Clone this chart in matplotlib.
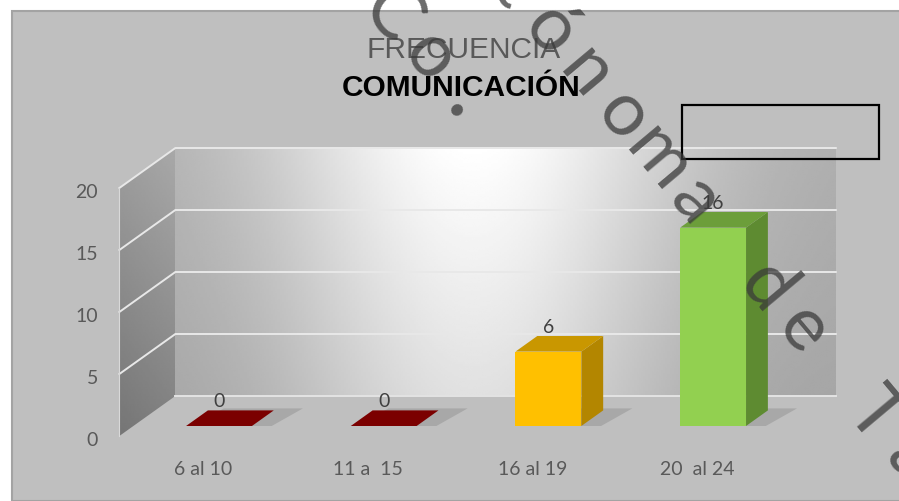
import numpy as np
import matplotlib.pyplot as plt
from matplotlib.patches import Polygon, Rectangle

# datos del grafico
categorias = ['6 al 10', '11 a  15', '16 al 19', '20  al 24']
frecuencia = [0, 0, 6, 16]
ticks_y = [0, 5, 10, 15, 20]
color_frente = ['#7f0000', '#7f0000', '#ffc000', '#92d050']
color_arriba = ['#7b0000', '#7b0000', '#c99700', '#6c9e3a']
color_lado = ['#5c0000', '#5c0000', '#b38600', '#5e8b31']

W, H = 899, 502
fig = plt.figure(figsize=(W / 100, H / 100), dpi=100)
fig.patch.set_facecolor('white')

def fx(px):
    return px / W

def fy(py):
    return 1 - py / H

# area del grafico
fig.patches.append(Rectangle((fx(12), 0), 1, fy(12), transform=fig.transFigure,
                             facecolor='#bfbfbf', edgecolor='#a3a3a3', lw=1.5, zorder=-5))

ax = fig.add_axes([0, 0, 1, 1])
ax.axis('off')
xlim = (-205 / 164.7, (W - 205) / 164.7)
ylim = ((437 - H) / 12.4, 437 / 12.4)

# perspectiva oblicua: profundidad z de 0 (frente) a 1 (pared del fondo)
DX, DY = 56 / 164.7, 40 / 12.4
x0, x1, vmax = -0.52, 3.49, 20

def P(x, v, z):
    return (x + z * DX, v + z * DY)

# pared del fondo con degradado
nx, ny = 300, 120
u = np.linspace(0, 1, nx)
t = np.linspace(0, 1, ny)[:, None]
brillo = 0.67 + 0.33 * np.exp(-((u - 0.45) / 0.32) ** 2)
fondo = brillo - 0.12 * (1 - t) * np.exp(-((u - 0.45) / 0.5) ** 2)
ax.imshow(fondo, cmap='gray', vmin=0, vmax=1, origin='lower', aspect='auto',
          extent=[x0 + DX, x1 + DX, DY, vmax + DY], zorder=1, interpolation='bilinear')

# pared lateral
lado = Polygon([P(x0, 0, 0), P(x0, 0, 1), P(x0, vmax, 1), P(x0, vmax, 0)],
               closed=True, facecolor='none', edgecolor='none')
ax.add_patch(lado)
tt = np.linspace(0, 1, 120)[:, None]
uu = np.linspace(0, 1, 40)[None, :]
grad_lado = 0.46 + 0.16 * tt + 0.04 * uu
im = ax.imshow(grad_lado, cmap='gray', vmin=0, vmax=1, origin='lower', aspect='auto',
               extent=[x0, x0 + DX, 0, vmax + DY], zorder=1, interpolation='bilinear')
im.set_clip_path(lado)

# lineas de cuadricula
for v in ticks_y[1:]:
    xs, ys = zip(P(x0, v, 0), P(x0, v, 1), P(x1, v, 1))
    ax.plot(xs, ys, color='#e8e8e8', lw=1.4, zorder=2)
xs, ys = zip(P(x0, 0, 1), P(x1, 0, 1))
ax.plot(xs, ys, color='#e3e3e3', lw=1.4, zorder=2)
xs, ys = zip(P(x0, 0, 0), P(x0, vmax, 0))
ax.plot(xs, ys, color='#d9d9d9', lw=0.8, zorder=2)

# barras 3d
w, z0, z1 = 0.4, 0.25, 0.64
for i, v in enumerate(frecuencia):
    a, b = i - w / 2, i + w / 2
    sombra = Polygon([P(a + 0.03, 0, z0), P(b + 0.12, 0, z0), P(b + 0.16, 0, z1 + 0.05),
                      P(a + 0.08, 0, z1 + 0.05)], closed=True,
                     facecolor='#999999', edgecolor='none', alpha=0.6, zorder=3)
    ax.add_patch(sombra)
    ax.add_patch(Polygon([P(b, 0, z0), P(b, 0, z1), P(b, v, z1), P(b, v, z0)],
                         closed=True, facecolor=color_lado[i], edgecolor='none', zorder=4))
    ax.add_patch(Polygon([P(a, v, z0), P(b, v, z0), P(b, v, z1), P(a, v, z1)],
                         closed=True, facecolor=color_arriba[i], edgecolor='none', zorder=4))
    if v > 0:
        ax.add_patch(Polygon([P(a, 0, z0), P(b, 0, z0), P(b, v, z0), P(a, v, z0)],
                             closed=True, facecolor=color_frente[i], edgecolor='none', zorder=5))
    lx = P(i, v, z0)[0]
    ax.text(lx, v + z1 * DY + 0.8, str(v), ha='center', va='center',
            fontsize=14, family='Lato', color='#404040', zorder=6)

# etiquetas de ejes
for v in ticks_y:
    ax.text(x0 - 0.13, v - 0.25, str(v), ha='right', va='center',
            fontsize=14, family='Lato', color='#595959')
for i, c in enumerate(categorias):
    ax.text(i - 0.01, -2.65, c, ha='center', va='center',
            fontsize=14, family='Lato', color='#595959')

ax.set_xlim(*xlim)
ax.set_ylim(*ylim)

# titulo
fig.text(fx(464), fy(50), 'FRECUENCIA', ha='center', va='center', fontsize=21.5,
         family='Liberation Sans', color='#595959')
fig.text(fx(461), fy(88), 'COMUNICACIÓN', ha='center', va='center', fontsize=21.5,
         family='Liberation Sans', fontweight='bold', color='black')

# recuadro vacio
fig.patches.append(Rectangle((fx(682), fy(160)), 197 / W, 54 / H, transform=fig.transFigure,
                             facecolor='none', edgecolor='black', lw=1.6, zorder=5))

# marca de agua
marca = 'Autónoma de Tamaulipas'
ang = np.radians(50)
paso = 56
for k, ch in enumerate(marca):
    px = 551 + (k - 3) * paso * np.cos(ang)
    py = 30 + (k - 3) * paso * np.sin(ang)
    if -40 < px < W + 40 and -40 < py < H + 40:
        fig.text(fx(px), fy(py), ch, ha='center', va='center', rotation=-50,
                 fontsize=54, family='Lato', color='#3a3a3a', alpha=0.75, zorder=10)
for ch, (px, py, fs) in zip('Co•', [(390, 15, 54), (430, 57, 54), (455, 112, 22)]):
    fig.text(fx(px), fy(py), ch, ha='center', va='center', rotation=-50,
             fontsize=fs, family='Lato', color='#3a3a3a', alpha=0.75, zorder=10)

fig.savefig('out.png', dpi=100, facecolor=fig.get_facecolor())
